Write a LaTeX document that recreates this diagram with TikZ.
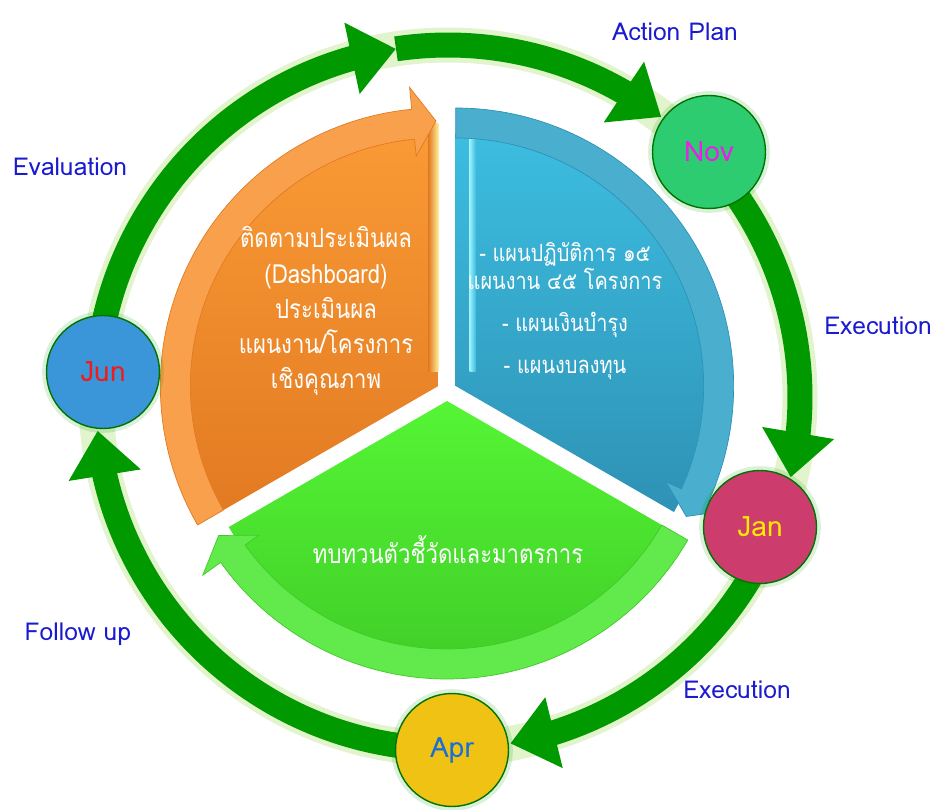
\documentclass[tikz,border=0pt]{standalone}
\usepackage{fontspec}
\setmainfont{Loma}
\newfontfamily\thaifont[Script=Thai, FakeStretch=0.84]{Loma}
\usetikzlibrary{arrows.meta, bending, calc, backgrounds}

\definecolor{ringgreen}{HTML}{009900}
\definecolor{ringglow}{HTML}{E2F4CC}
\definecolor{phaseblue}{HTML}{1A1ACF}
\definecolor{orTop}{HTML}{F99A35}
\definecolor{orBot}{HTML}{E27A22}
\definecolor{orBand}{HTML}{F9A04C}
\definecolor{orHi}{HTML}{FFEE9A}
\definecolor{blTop}{HTML}{3CBDE0}
\definecolor{blBot}{HTML}{2E92B5}
\definecolor{blBand}{HTML}{4AAFCF}
\definecolor{blHi}{HTML}{9BEFFA}
\definecolor{grTop}{HTML}{55F535}
\definecolor{grBot}{HTML}{3FCB27}
\definecolor{grBand}{HTML}{62EA4C}

\begin{document}
\begin{tikzpicture}[x=0.02cm, y=0.02cm,
	month/.style={circle, minimum size=2.26cm, inner sep=0pt, draw=green!45!black, line width=0.8pt,
		font=\fontsize{16}{18}\selectfont, preaction={draw=green!60!black, opacity=0.15, line width=5pt}},
	phase/.style={text=phaseblue, font=\fontsize{14}{16}\selectfont},
	ringarrow/.style={draw=ringgreen, line width=0.5cm, -{Triangle[width=1.4cm, length=0.9cm]}},
	thaitext/.style={text=white, align=center, font=\thaifont\fontsize{15}{20}\selectfont}]
	\useasboundingbox (0,0) rectangle (937,809);
	\coordinate (G) at (448,412);
	\coordinate (C) at (447,418);
	\foreach \n/\a in {jun/176, top/98.5, nov/43.2, jan/-22.6, apr/-89.4}
		\coordinate (r-\n) at ($(G)+(\a:352)$);

	\node[month, fill={rgb,255:red,58;green,150;blue,216}, text={rgb,255:red,242;green,26;blue,26}] (jun) at (103,437) {Jun};
	\node[month, fill={rgb,255:red,46;green,204;blue,113}, text={rgb,255:red,232;green,31;blue,232}] (nov) at (709,657) {Nov};
	\node[month, fill={rgb,255:red,204;green,61;blue,110}, text={rgb,255:red,255;green,234;blue,0}] (jan) at (760,282) {Jan};
	\node[month, fill={rgb,255:red,240;green,194;blue,20}, text={rgb,255:red,26;green,111;blue,212}] (apr) at (452,59) {Apr};

	\begin{scope}[on background layer]
		\draw[ringglow, line width=0.7cm] (G) circle[radius=352];
		\draw[ringarrow] (r-jun) arc[start angle=176, end angle=98.5, radius=352];
		\draw[ringarrow] (r-top) arc[start angle=98.5, end angle=52.7, radius=352];
		\draw[ringarrow] (r-nov) arc[start angle=43.2, end angle=-13.2, radius=352];
		\draw[ringarrow] (r-jan) arc[start angle=-22.6, end angle=-79.8, radius=352];
		\draw[ringarrow] (r-apr) arc[start angle=-89.4, end angle=-174.5, radius=352];

		\begin{scope}[shift={($(C)+(150:10)$)}]
			\shade[top color=orTop, bottom color=orBot] (0,0) -- (210:252) arc[start angle=210, end angle=90, radius=252] -- cycle;
			\shade[left color=orBot, right color=orHi] (-10,14) rectangle (0,262);
			\fill[orBand, draw=orBot, line width=0.4pt] (210:248) -- (210:278) arc[start angle=210, end angle=95.5, radius=278]
				-- (95.5:300) -- (90.5:265) -- (95.5:231) -- (95.5:248) arc[start angle=95.5, end angle=210, radius=248] -- cycle;
		\end{scope}
		\begin{scope}[shift={($(C)+(30:10)$)}]
			\shade[top color=blTop, bottom color=blBot] (0,0) -- (90:252) arc[start angle=90, end angle=-30, radius=252] -- cycle;
			\shade[left color=blHi, right color=blTop] (14,14) rectangle (20,250);
			\fill[blBand, draw=blBot, line width=0.4pt] (90:248) -- (90:278) arc[start angle=90, end angle=-24.5, radius=278]
				-- (-24.5:300) -- (-29.5:265) -- (-24.5:231) -- (-24.5:248) arc[start angle=-24.5, end angle=90, radius=248] -- cycle;
		\end{scope}
		\begin{scope}[shift={($(C)+(270:10)$)}]
			\shade[top color=grTop, bottom color=grBot] (0,0) -- (-30:252) arc[start angle=-30, end angle=-150, radius=252] -- cycle;
			\fill[grBand, draw=grBot, line width=0.4pt] (-30:248) -- (-30:278) arc[start angle=-30, end angle=-144.5, radius=278]
				-- (-144.5:300) -- (-149.5:265) -- (-144.5:231) -- (-144.5:248) arc[start angle=-144.5, end angle=-30, radius=248] -- cycle;
		\end{scope}
	\end{scope}

	\node[thaitext] (evaltext) at (326,498) {ติดตามประเมินผล\\(Dashboard)\\ประเมินผล\\แผนงาน/โครงการ\\เชิงคุณภาพ};
	\node[thaitext, font=\thaifont\fontsize{13.5}{16}\selectfont] (plantext) at (565,498) {- แผนปฏิบัติการ ๑๕\\แผนงาน ๔๕ โครงการ\\[8pt]- แผนเงินบำรุง\\[8pt]- แผนงบลงทุน};
	\node[thaitext] (reviewtext) at (448,259) {ทบทวนตัวชี้วัดและมาตรการ};

	\node[phase] (actionplan) at (675,777) {Action Plan};
	\node[phase] (exec1) at (878,483) {Execution};
	\node[phase] (exec2) at (737,119) {Execution};
	\node[phase] (followup) at (78,175) {Follow up};
	\node[phase] (evaluation) at (70,642) {Evaluation};
\end{tikzpicture}
\end{document}
